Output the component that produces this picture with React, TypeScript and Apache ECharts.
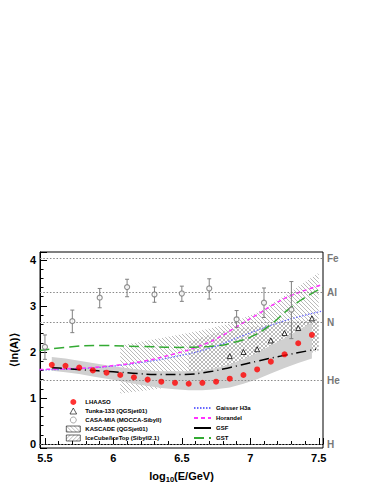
import React, { useEffect, useRef } from 'react';
import * as echarts from 'echarts';

const FONT = '"Liberation Sans", Arial, Helvetica, sans-serif';

// LHAASO
const lhaasoX = [5.55, 5.65, 5.75, 5.85, 5.95, 6.05, 6.15, 6.25, 6.35, 6.45, 6.55, 6.65, 6.75, 6.85, 6.95, 7.05, 7.15, 7.25, 7.35, 7.45];
const lhaasoY = [1.72, 1.70, 1.66, 1.60, 1.55, 1.50, 1.45, 1.40, 1.355, 1.33, 1.31, 1.33, 1.355, 1.42, 1.50, 1.62, 1.79, 1.95, 2.19, 2.37];
const lhaasoUp = [1.89, 1.86, 1.81, 1.76, 1.71, 1.67, 1.63, 1.60, 1.58, 1.58, 1.58, 1.60, 1.65, 1.73, 1.84, 1.98, 2.14, 2.30, 2.47, 2.64];
const lhaasoLo = [1.59, 1.56, 1.52, 1.47, 1.42, 1.37, 1.31, 1.26, 1.22, 1.19, 1.17, 1.17, 1.19, 1.23, 1.31, 1.41, 1.53, 1.65, 1.76, 1.86];

// Tunka-133
const tunkaX = [6.85, 6.95, 7.05, 7.15, 7.25, 7.35, 7.45];
const tunkaY = [1.91, 2.00, 2.06, 2.25, 2.41, 2.52, 2.73];

// CASA-MIA
const casaX = [5.5, 5.7, 5.9, 6.1, 6.3, 6.5, 6.7, 6.9, 7.1, 7.3];
const casaY = [2.11, 2.67, 3.18, 3.41, 3.25, 3.27, 3.38, 2.71, 3.07, 2.92];
const casaLo = [1.84, 2.42, 2.96, 3.20, 3.08, 3.10, 3.15, 2.53, 2.75, 2.29];
const casaHi = [2.37, 2.91, 3.38, 3.58, 3.41, 3.43, 3.59, 2.90, 3.39, 3.53];

// KASCADE band
const kasX = [6.05, 6.25, 6.45, 6.65, 6.85, 7.05, 7.25, 7.5];
const kasLo = [1.10, 1.17, 1.25, 1.35, 1.45, 1.60, 1.80, 2.03];
const kasUp = [2.14, 2.25, 2.36, 2.47, 2.62, 2.86, 3.22, 3.72];

// IceCube/IceTop band
const iceX = [6.55, 6.75, 7.0, 7.25, 7.5];
const iceLo = [1.45, 1.55, 1.70, 1.88, 2.03];
const iceUp = [2.22, 2.42, 2.55, 2.63, 2.72];

// Models
const gaisX = [5.46, 5.7, 5.95, 6.2, 6.45, 6.7, 6.95, 7.2, 7.4, 7.53];
const gaisY = [1.61, 1.63, 1.68, 1.77, 1.90, 2.08, 2.36, 2.63, 2.80, 2.89];
const horX = [5.46, 5.7, 5.95, 6.2, 6.46, 6.62, 6.76, 6.9, 7.06, 7.18, 7.3, 7.42, 7.53];
const horY = [1.62, 1.64, 1.69, 1.79, 1.97, 2.12, 2.30, 2.55, 2.83, 3.05, 3.23, 3.36, 3.47];
const gsfX = [5.55, 5.6, 5.78, 6.0, 6.14, 6.32, 6.5, 6.7, 6.86, 7.05, 7.22, 7.41, 7.48];
const gsfY = [1.66, 1.65, 1.61, 1.57, 1.54, 1.51, 1.51, 1.57, 1.67, 1.80, 1.91, 2.02, 2.06];
const gstX = [5.46, 5.68, 5.9, 6.2, 6.48, 6.7, 6.92, 7.04, 7.16, 7.28, 7.42, 7.53];
const gstY = [2.03, 2.11, 2.14, 2.12, 2.10, 2.12, 2.24, 2.38, 2.62, 2.93, 3.22, 3.40];

// Reference elements
const refNames = ['Fe', 'Al', 'N', 'He', 'H'];
const refValues = [4.025, 3.296, 2.639, 1.386, 0];

// Tick labels
const xTickLabels = [5.5, 6, 6.5, 7, 7.5];
const yTickLabels = [0, 1, 2, 3, 4];

const X_MIN = 5.464, X_MAX = 7.531, Y_MIN = -0.086, Y_MAX = 4.172;

function zip(xs: number[], ys: number[]) {
  return xs.map((x, i) => [x, ys[i]]);
}

function hatch(dir: number, size: number, color: string, lw: number) {
  const c = document.createElement('canvas');
  c.width = size; c.height = size;
  const ctx = c.getContext('2d')!;
  ctx.strokeStyle = color; ctx.lineWidth = lw;
  ctx.beginPath();
  if (dir > 0) {
    ctx.moveTo(-1, size + 1); ctx.lineTo(size + 1, -1);
  } else {
    ctx.moveTo(-1, -1); ctx.lineTo(size + 1, size + 1);
  }
  ctx.stroke();
  return { image: c.toDataURL(), repeat: 'repeat', imageWidth: size, imageHeight: size } as any;
}

function bandSeries(name: string, xs: number[], lo: number[], hi: number[], fill: any, z: number) {
  return {
    type: 'custom',
    name,
    z,
    silent: true,
    clip: true,
    encode: { x: 0, y: [1, 2] },
    data: xs.map((x, i) => [x, lo[i], hi[i]]),
    renderItem: (params: any, api: any) => {
      if (params.dataIndex !== 0) return null;
      const pts: number[][] = [];
      for (let i = 0; i < xs.length; i++) pts.push(api.coord([xs[i], hi[i]]));
      for (let i = xs.length - 1; i >= 0; i--) pts.push(api.coord([xs[i], lo[i]]));
      return { type: 'polygon', shape: { points: pts }, style: { fill, stroke: null } };
    },
  };
}

export default function App() {
  const ref = useRef<HTMLDivElement>(null);
  useEffect(() => {
    if (!ref.current) return;
    const chart = echarts.init(ref.current, undefined, { renderer: 'svg' });
    const kasPattern = hatch(-1, 4, '#a8a8a8', 0.8);
    const icePattern = hatch(1, 4, '#a8a8a8', 0.8);
    const isTick = (list: number[]) => (v: number) =>
      list.some((t) => Math.abs(t - v) < 1e-6) ? String(Math.round(v * 10) / 10) : '';

    const legendText = { fontSize: 6, fontWeight: 'bold' as const, color: '#000', fontFamily: FONT, lineHeight: 7 };
    const noSym = { color: 'rgba(0,0,0,0)', borderWidth: 0, opacity: 0 };

    const option: any = {
      animation: false,
      backgroundColor: '#fff',
      textStyle: { fontFamily: FONT },
      grid: { left: 39, right: 51, top: 252, bottom: 34, show: true, borderColor: '#000', borderWidth: 1, backgroundColor: 'transparent' },
      xAxis: [
        {
          type: 'value', min: X_MIN, max: X_MAX, minInterval: 0.5, maxInterval: 0.5, position: 'bottom',
          name: '{a|log}{b|10}{a|(E/GeV)}', nameLocation: 'middle', nameGap: 20,
          nameTextStyle: {
            rich: {
              a: { fontSize: 11, fontWeight: 'bold', color: '#000', fontFamily: FONT },
              b: { fontSize: 7.5, fontWeight: 'bold', color: '#000', fontFamily: FONT, padding: [7, 0, 0, 0] },
            },
          },
          axisLine: { show: true, lineStyle: { color: '#000', width: 1 } },
          axisTick: { show: true, inside: true, length: 6, lineStyle: { color: '#000' } },
          axisLabel: { formatter: isTick(xTickLabels), fontSize: 11, fontWeight: 'bold', color: '#000', margin: 4, fontFamily: FONT },
          splitLine: { show: false },
        },
        {
          type: 'value', min: X_MIN, max: X_MAX, minInterval: 0.1, maxInterval: 0.1, position: 'bottom',
          axisLine: { show: false },
          axisTick: { show: true, inside: true, length: 3, lineStyle: { color: '#000' } },
          axisLabel: { show: false },
          splitLine: { show: false },
        },
      ],
      yAxis: [
        {
          type: 'value', min: Y_MIN, max: Y_MAX, minInterval: 1, maxInterval: 1, position: 'left',
          name: '⟨ln(A)⟩', nameLocation: 'middle', nameGap: 18,
          nameTextStyle: { fontSize: 11, fontWeight: 'bold', color: '#000', fontFamily: FONT },
          axisLine: { show: true, lineStyle: { color: '#000', width: 1 } },
          axisTick: { show: true, inside: true, length: 7, lineStyle: { color: '#000' } },
          axisLabel: { formatter: isTick(yTickLabels), fontSize: 11, fontWeight: 'bold', color: '#000', margin: 4, fontFamily: FONT },
          splitLine: { show: false },
        },
        {
          type: 'value', min: Y_MIN, max: Y_MAX, minInterval: 0.2, maxInterval: 0.2, position: 'left',
          axisLine: { show: false },
          axisTick: { show: true, inside: true, length: 3.5, lineStyle: { color: '#000' } },
          axisLabel: { show: false },
          splitLine: { show: false },
        },
      ],
      legend: [
        {
          left: 66, top: 398.5, orient: 'vertical', itemWidth: 14, itemHeight: 6, itemGap: 2, padding: 0,
          symbolKeepAspect: true, selectedMode: false, textStyle: legendText,
          data: [
            { name: 'LHAASO', icon: 'circle' },
            { name: 'Tunka-133 (QGSjet01)', icon: 'path://M5,0 L10,9 L0,9 Z', itemStyle: { color: '#fff', borderColor: '#000', borderWidth: 0.8 } },
            { name: 'CASA-MIA (MOCCA-Sibyll)', icon: 'circle', itemStyle: { color: '#fff', borderColor: '#777', borderWidth: 0.8 } },
            { name: 'KASCADE (QGSjet01)', icon: 'rect', itemStyle: { color: kasPattern, borderColor: '#000', borderWidth: 0.6 } },
            { name: 'IceCube/IceTop (Sibyll2.1)', icon: 'rect', itemStyle: { color: icePattern, borderColor: '#000', borderWidth: 0.6 } },
          ],
        },
        {
          left: 193, top: 404.5, orient: 'vertical', itemWidth: 17, itemHeight: 6, itemGap: 3, padding: 0,
          selectedMode: false, textStyle: legendText,
          data: [
            { name: 'Gaisser H3a', itemStyle: noSym },
            { name: 'Horandel', itemStyle: noSym },
            { name: 'GSF', itemStyle: noSym, lineStyle: { type: 'solid' } },
            { name: 'GST', itemStyle: noSym },
          ],
        },
      ],
      series: [
        bandSeries('KASCADE (QGSjet01)', kasX, kasLo, kasUp, kasPattern, 1),
        bandSeries('IceCube/IceTop (Sibyll2.1)', iceX, iceLo, iceUp, icePattern, 1),
        bandSeries('LHAASO sys', lhaasoX, lhaasoLo, lhaasoUp, '#d0d0d0', 2),
        {
          type: 'line', name: 'refs', data: [], z: 3, silent: true,
          markLine: {
            silent: true, symbol: 'none', animation: false,
            lineStyle: { color: '#888', width: 1.2, type: [1.5, 1.8] },
            label: { position: 'end', formatter: '{b}', color: '#777', fontSize: 10, fontWeight: 'bold', fontFamily: FONT, distance: 4 },
            data: refNames.map((n, i) => ({ name: n, yAxis: refValues[i] })),
          },
        },
        {
          type: 'line', name: 'Gaisser H3a', data: zip(gaisX, gaisY), smooth: true, showSymbol: false, symbol: 'none', z: 4,
          lineStyle: { color: '#6868ff', width: 1.2, type: [1.5, 1.5] }, itemStyle: { color: '#6868ff' },
        },
        {
          type: 'line', name: 'Horandel', data: zip(horX, horY), smooth: true, showSymbol: false, symbol: 'none', z: 4,
          lineStyle: { color: '#ff33ff', width: 1.5, type: [4, 3] }, itemStyle: { color: '#ff33ff' },
        },
        {
          type: 'line', name: 'GSF', data: zip(gsfX, gsfY), smooth: true, showSymbol: false, symbol: 'none', z: 4,
          lineStyle: { color: '#000', width: 1.5, type: [10, 4, 1, 4] }, itemStyle: { color: '#000' },
        },
        {
          type: 'line', name: 'GST', data: zip(gstX, gstY), smooth: true, showSymbol: false, symbol: 'none', z: 4,
          lineStyle: { color: '#33aa33', width: 1.5, type: [10, 5] }, itemStyle: { color: '#33aa33' },
        },
        {
          type: 'custom', name: 'casaErr', z: 5, silent: true,
          encode: { x: 0, y: [1, 2] },
          data: casaX.map((x, i) => [x, casaLo[i], casaHi[i]]),
          renderItem: (params: any, api: any) => {
            const x = api.value(0), lo = api.value(1), hi = api.value(2);
            const p1 = api.coord([x, lo]);
            const p2 = api.coord([x, hi]);
            const style = { stroke: '#808080', lineWidth: 1 };
            return {
              type: 'group',
              children: [
                { type: 'line', shape: { x1: p1[0], y1: p1[1], x2: p2[0], y2: p2[1] }, style },
                { type: 'line', shape: { x1: p1[0] - 2, y1: p1[1], x2: p1[0] + 2, y2: p1[1] }, style },
                { type: 'line', shape: { x1: p2[0] - 2, y1: p2[1], x2: p2[0] + 2, y2: p2[1] }, style },
              ],
            };
          },
        },
        {
          type: 'scatter', name: 'CASA-MIA (MOCCA-Sibyll)', data: zip(casaX, casaY), symbol: 'circle', symbolSize: 5, z: 6,
          itemStyle: { color: '#fff', borderColor: '#777', borderWidth: 1.2 },
        },
        {
          type: 'scatter', name: 'Tunka-133 (QGSjet01)', data: zip(tunkaX, tunkaY), symbol: 'triangle', symbolSize: 5, z: 6,
          itemStyle: { color: '#fff', borderColor: '#000', borderWidth: 1 },
        },
        {
          type: 'scatter', name: 'LHAASO', data: zip(lhaasoX, lhaasoY), symbol: 'circle', symbolSize: 6, z: 7,
          itemStyle: { color: '#ff0000' },
        },
      ],
    };
    chart.setOption(option);
    return () => chart.dispose();
  }, []);
  return <div ref={ref} style={{ position: 'absolute', left: 0, top: 0, width: 374, height: 484, background: '#fff' }} />;
}
